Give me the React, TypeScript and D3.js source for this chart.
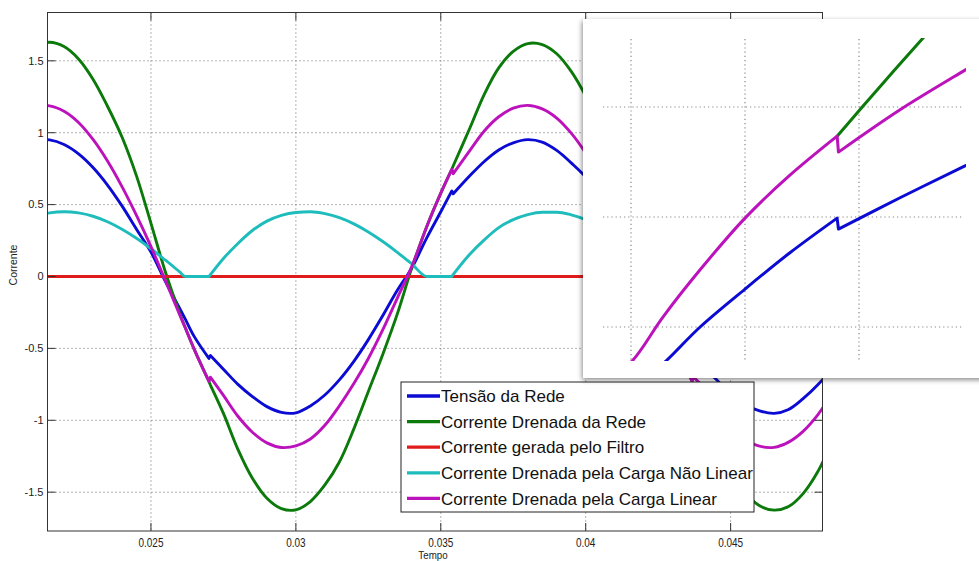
import React from 'react';
import * as d3 from 'd3';

// ---- main plot data ----
const time = [0.0210, 0.0215, 0.0220, 0.0225, 0.0230, 0.0235, 0.0240, 0.0245, 0.0250, 0.0255,
  0.0260, 0.02618, 0.0265, 0.0270, 0.02705, 0.0275, 0.0280, 0.0285, 0.0290, 0.0295,
  0.0300, 0.0305, 0.0310, 0.0315, 0.0320, 0.0325, 0.0330, 0.0335, 0.0340, 0.03452,
  0.0350, 0.03538, 0.03543, 0.0360, 0.0365, 0.0370, 0.0375, 0.0380, 0.0385, 0.0390,
  0.0395, 0.0400, 0.0405, 0.0410, 0.0415, 0.0420, 0.0425, 0.04285, 0.04367, 0.04372,
  0.0440, 0.0445, 0.0450, 0.0455, 0.0460, 0.0465, 0.0470, 0.0475, 0.0480, 0.0485];

const tensaoRede = [0.949, 0.950, 0.918, 0.853, 0.758, 0.636, 0.491, 0.329, 0.170, -0.035,
  -0.225, -0.295, -0.42, -0.57, -0.55, -0.645, -0.75, -0.835, -0.905, -0.945,
  -0.948, -0.90, -0.824, -0.719, -0.59, -0.439, -0.272, -0.096, 0.06, 0.27,
  0.45, 0.595, 0.575, 0.70, 0.80, 0.88, 0.93, 0.952, 0.935, 0.877,
  0.79, 0.69, 0.54, 0.38, 0.21, 0.01, -0.18, -0.295, -0.57, -0.55,
  -0.62, -0.715, -0.82, -0.89, -0.935, -0.952, -0.925, -0.85, -0.755, -0.64];

const correnteRede = [1.601, 1.629, 1.599, 1.513, 1.372, 1.184, 0.97, 0.70, 0.37, 0.03,
  -0.26, -0.355, -0.51, -0.73, -0.755, -0.952, -1.202, -1.403, -1.542, -1.614,
  -1.623, -1.565, -1.45, -1.29, -1.06, -0.80, -0.54, -0.26, 0.06, 0.35,
  0.58, 0.745, 0.77, 1.031, 1.267, 1.451, 1.566, 1.62, 1.613, 1.549,
  1.426, 1.254, 1.037, 0.782, 0.501, 0.17, -0.17, -0.36, -0.73, -0.755,
  -0.87, -1.12, -1.34, -1.50, -1.595, -1.625, -1.60, -1.51, -1.36, -1.15];

const filtroTime = [0.0210, 0.0485];
const correnteFiltro = [0, 0];

const cargaNaoLinear = [0.418, 0.442, 0.45, 0.442, 0.419, 0.381, 0.329, 0.266, 0.193, 0.113,
  0.03, 0, 0, 0, 0.012, 0.125, 0.23, 0.32, 0.385, 0.425,
  0.445, 0.45, 0.437, 0.409, 0.366, 0.31, 0.243, 0.168, 0.087, 0,
  0, 0, 0.015, 0.155, 0.255, 0.34, 0.395, 0.43, 0.447, 0.447,
  0.429, 0.396, 0.348, 0.288, 0.219, 0.141, 0.058, 0, 0, 0.015,
  0.08, 0.195, 0.29, 0.365, 0.415, 0.44, 0.45, 0.442, 0.419, 0.381];

const cargaLinear = [1.183, 1.187, 1.149, 1.071, 0.953, 0.803, 0.625, 0.425, 0.208, -0.03,
  -0.27, -0.355, -0.51, -0.73, -0.70, -0.827, -0.972, -1.083, -1.157, -1.189,
  -1.178, -1.130, -1.035, -0.90, -0.745, -0.57, -0.37, -0.15, 0.07, 0.35,
  0.58, 0.745, 0.715, 0.876, 1.012, 1.111, 1.171, 1.19, 1.166, 1.102,
  0.997, 0.858, 0.689, 0.494, 0.282, 0.05, -0.21, -0.36, -0.73, -0.70,
  -0.758, -0.917, -1.044, -1.132, -1.18, -1.188, -1.152, -1.077, -0.964, -0.814];

const xTicks = [0.025, 0.03, 0.035, 0.04, 0.045];
const xTickLabels = ['0.025', '0.03', '0.035', '0.04', '0.045'];
const yTicks = [-1.5, -1, -0.5, 0, 0.5, 1, 1.5];
const yTickLabels = ['-1.5', '-1', '-0.5', '0', '0.5', '1', '1.5'];

const legendNames = [
  'Tensão da Rede',
  'Corrente Drenada da Rede',
  'Corrente gerada pelo Filtro',
  'Corrente Drenada pela Carga Não Linear',
  'Corrente Drenada pela Carga Linear',
];
const seriesColors = ['#0b0bd4', '#0b7a0b', '#e01b1b', '#1fbcbc', '#bc12bc'];

// ---- zoomed inset data ----
const insetBlueT = [0.03455, 0.034658, 0.034803, 0.0350, 0.035197, 0.035404, 0.03541, 0.03568, 0.035965, 0.0361];
const insetBlueV = [0.30, 0.34, 0.40, 0.469, 0.535, 0.598, 0.578, 0.635, 0.693, 0.72];
const insetGreenT = [0.035404, 0.03559, 0.03578, 0.0359];
const insetGreenV = [0.747, 0.836, 0.925, 0.98];
const insetMagentaT = [0.0344, 0.034509, 0.03464, 0.034803, 0.0350, 0.035197, 0.035404, 0.03541, 0.03568, 0.035965, 0.0361];
const insetMagentaV = [0.30, 0.34, 0.418, 0.504, 0.598, 0.676, 0.747, 0.718, 0.795, 0.867, 0.90];
const insetXTicks = [0.0345, 0.035, 0.0355];
const insetYTicks = [0.4, 0.6, 0.8];

const W = 979;
const H = 561;
const L = 47.5, R = 822.5, T = 12.5, B = 531;

// smooth curve through the points, with a straight step where two samples are (almost) at the same time
function makeLine(ts: number[], vs: number[], sx: any, sy: any, curve: any) {
  const gen = d3.line<number>()
    .x((i) => sx(ts[i]))
    .y((i) => sy(vs[i]))
    .curve(curve);
  const segments: number[][] = [];
  let cur: number[] = [0];
  for (let i = 1; i < ts.length; i++) {
    if (sx(ts[i]) - sx(ts[i - 1]) < 3) {
      segments.push(cur);
      cur = [i];
    } else {
      cur.push(i);
    }
  }
  segments.push(cur);
  let d = '';
  segments.forEach((seg, k) => {
    const part = gen(seg) || '';
    d += k === 0 ? part : 'L' + part.slice(1);
  });
  return d;
}

export default function App() {
  const x = d3.scaleLinear().domain([0.02143, 0.04817]).range([L, R]);
  const y = d3.scaleLinear().domain([-1.77, 1.836]).range([B, T]);

  const ix = d3.scaleLinear().domain([0.0345, 0.0355]).range([631, 859]);
  const iy = d3.scaleLinear().domain([0.4, 0.8]).range([327, 107]);

  const smooth = d3.curveCatmullRom.alpha(0.5);
  const mainSeries = [
    { t: time, v: tensaoRede, c: seriesColors[0], k: smooth },
    { t: time, v: correnteRede, c: seriesColors[1], k: smooth },
    { t: filtroTime, v: correnteFiltro, c: seriesColors[2], k: d3.curveLinear },
    { t: time, v: cargaNaoLinear, c: seriesColors[3], k: d3.curveMonotoneX },
    { t: time, v: cargaLinear, c: seriesColors[4], k: smooth },
  ];

  const insetSeries = [
    { t: insetBlueT, v: insetBlueV, c: seriesColors[0] },
    { t: insetGreenT, v: insetGreenV, c: seriesColors[1] },
    { t: insetMagentaT, v: insetMagentaV, c: seriesColors[4] },
  ];

  const font = "'Liberation Sans', Arial, Helvetica, sans-serif";
  const gridStroke = '#666';

  return (
    <svg width={W} height={H} style={{ position: 'absolute', left: 0, top: 0, background: '#fff' }}
      xmlns="http://www.w3.org/2000/svg">
      <defs>
        <clipPath id="plotClip">
          <rect x={L} y={T} width={R - L} height={B - T} />
        </clipPath>
        <clipPath id="insetClip">
          <rect x={603} y={38} width={363} height={323} />
        </clipPath>
        <filter id="shadow" x="-10%" y="-10%" width="130%" height="130%">
          <feDropShadow dx="-1" dy="2" stdDeviation="2.5" floodColor="#000" floodOpacity="0.45" />
        </filter>
      </defs>
      <rect x={0} y={0} width={W} height={H} fill="#fff" />

      {/* grid */}
      <g stroke={gridStroke} strokeWidth={1} strokeDasharray="1,3">
        {xTicks.map((t) => (
          <line key={'gx' + t} x1={x(t)} x2={x(t)} y1={T} y2={B} />
        ))}
        {yTicks.map((v) => (
          <line key={'gy' + v} x1={L} x2={R} y1={y(v)} y2={y(v)} />
        ))}
      </g>

      {/* series */}
      <g clipPath="url(#plotClip)" fill="none" strokeLinejoin="round" strokeLinecap="round">
        {mainSeries.map((s, i) => (
          <path key={'s' + i} d={makeLine(s.t, s.v, x, y, s.k)} stroke={s.c} strokeWidth={2.9} />
        ))}
      </g>

      {/* axes box and ticks */}
      <g stroke="#333" strokeWidth={1}>
        <rect x={L} y={T} width={R - L} height={B - T} fill="none" />
        {xTicks.map((t) => (
          <g key={'tx' + t}>
            <line x1={x(t)} x2={x(t)} y1={B} y2={B - 8} />
            <line x1={x(t)} x2={x(t)} y1={T} y2={T + 8} />
          </g>
        ))}
        {yTicks.map((v) => (
          <g key={'ty' + v}>
            <line x1={L} x2={L + 8} y1={y(v)} y2={y(v)} />
            <line x1={R} x2={R - 8} y1={y(v)} y2={y(v)} />
          </g>
        ))}
      </g>

      {/* tick labels */}
      <g fontFamily={font} fontSize={11} fill="#222">
        {yTicks.map((v, i) => (
          <text key={'ly' + v} x={L - 4} y={y(v)} dy="0.35em" textAnchor="end">{yTickLabels[i]}</text>
        ))}
        {xTicks.map((t, i) => (
          <text key={'lx' + t} transform={`translate(${x(t)},${546.5}) scale(0.8,1)`} fontSize={12.5} textAnchor="middle">{xTickLabels[i]}</text>
        ))}
        <text transform={`translate(${433},${559}) scale(0.85,1)`} fontSize={11.5} textAnchor="middle">Tempo</text>
        <text transform={`translate(${17},${265}) rotate(-90)`} fontSize={10.5} textAnchor="middle">Corrente</text>
      </g>

      {/* legend */}
      <g>
        <rect x={401} y={382} width={353} height={130} fill="#fff" stroke="#222" strokeWidth={1} />
        {legendNames.map((n, i) => {
          const yy = 396 + i * 25.6;
          return (
            <g key={'lg' + i}>
              <line x1={407} x2={440} y1={yy} y2={yy} stroke={seriesColors[i]} strokeWidth={3.3} />
              <text x={441} y={yy} dy="0.36em" fontFamily={font} fontSize={17} fill="#111">{n}</text>
            </g>
          );
        })}
      </g>

      {/* zoomed inset */}
      <g>
        <rect x={583} y={19} width={420} height={359} fill="#fff" filter="url(#shadow)" />
        <g stroke="#888" strokeWidth={1.2} strokeDasharray="1.2,3">
          {insetXTicks.map((t) => (
            <line key={'ix' + t} x1={ix(t)} x2={ix(t)} y1={39} y2={360} />
          ))}
          {insetYTicks.map((v) => (
            <line key={'iy' + v} x1={603} x2={963} y1={iy(v)} y2={iy(v)} />
          ))}
        </g>
        <g clipPath="url(#insetClip)" fill="none" strokeLinejoin="round" strokeLinecap="round">
          {insetSeries.map((s, i) => (
            <path key={'is' + i} d={makeLine(s.t, s.v, ix, iy, smooth)} stroke={s.c} strokeWidth={3} />
          ))}
        </g>
      </g>
    </svg>
  );
}
